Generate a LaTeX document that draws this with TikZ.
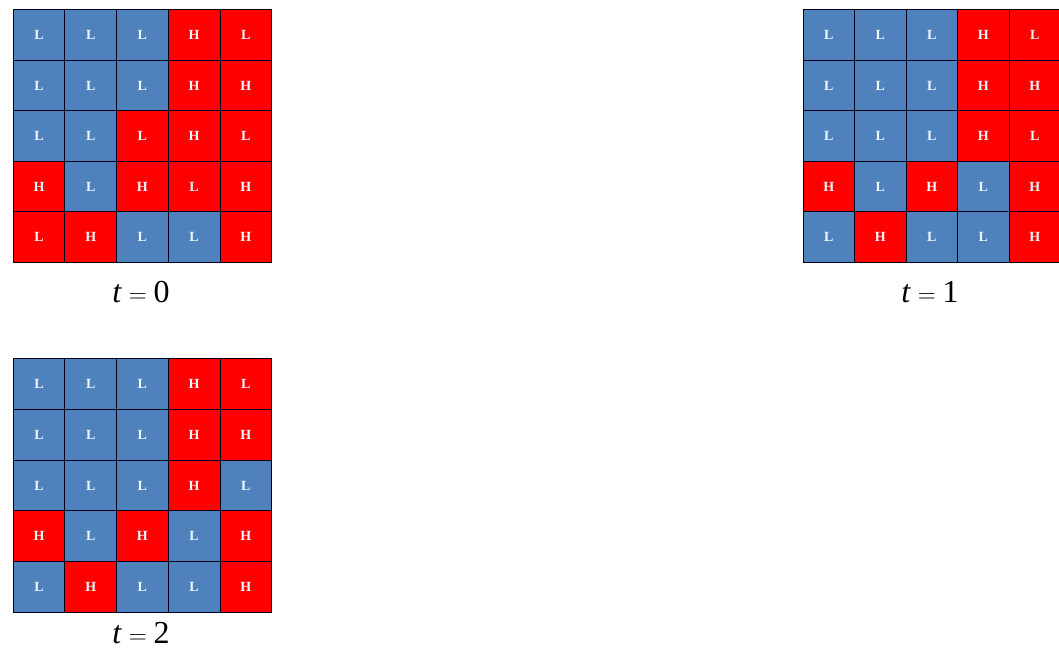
\documentclass[tikz,border=0pt]{standalone}
\usepackage{fontspec}
\setmainfont{Liberation Serif}
\usetikzlibrary{positioning}

\definecolor{lowc}{HTML}{4F81BD}
\definecolor{highc}{HTML}{FF0000}

\tikzset{
  cell/.style={draw=black!90!blue, line width=0.9pt, anchor=north west, inner sep=0pt,
    text=white!92!cyan, font=\bfseries\fontsize{14}{16}\selectfont},
  timelabel/.style={font=\fontsize{32}{38}\selectfont, inner sep=0pt}
}

% #1 name, #2 left, #3 top, #4 cell width, #5 cell height, #6 rows
\newcommand{\drawgrid}[6]{%
  \foreach \row [count=\i] in {#6} {
    \foreach \txt/\col [count=\j] in \row {
      \node[cell, fill=\col, minimum width=#4pt, minimum height=#5pt]
        (#1-\i-\j) at ({#2+(\j-1)*#4}, {#3+(\i-1)*#5}) {\txt};
    }
  }%
}

\begin{document}
\begin{tikzpicture}[x=1pt,y=-1pt]
\clip (0,0) rectangle (1059,657);
\fill[white] (0,0) rectangle (1059,657);

% t = 0
\drawgrid{ga}{12.7}{9.3}{51.7}{50.5}{
  {L/lowc,L/lowc,L/lowc,H/highc,L/highc},
  {L/lowc,L/lowc,L/lowc,H/highc,H/highc},
  {L/lowc,L/lowc,L/highc,H/highc,L/highc},
  {H/highc,L/lowc,H/highc,L/highc,H/highc},
  {L/highc,H/highc,L/lowc,L/lowc,H/highc}}
\node[timelabel] (la) at (141,292) {\textit{t}${}={}$0};

% t = 1
\drawgrid{gb}{802.7}{9.3}{51.5}{50.5}{
  {L/lowc,L/lowc,L/lowc,H/highc,L/highc},
  {L/lowc,L/lowc,L/lowc,H/highc,H/highc},
  {L/lowc,L/lowc,L/lowc,H/highc,L/highc},
  {H/highc,L/lowc,H/highc,L/lowc,H/highc},
  {L/lowc,H/highc,L/lowc,L/lowc,H/highc}}
\node[timelabel] (lb) at (930,292) {\textit{t}${}={}$1};

% t = 2
\drawgrid{gc}{12.7}{358.3}{51.7}{50.7}{
  {L/lowc,L/lowc,L/lowc,H/highc,L/highc},
  {L/lowc,L/lowc,L/lowc,H/highc,H/highc},
  {L/lowc,L/lowc,L/lowc,H/highc,L/lowc},
  {H/highc,L/lowc,H/highc,L/lowc,H/highc},
  {L/lowc,H/highc,L/lowc,L/lowc,H/highc}}
\node[timelabel] (lc) at (141,633) {\textit{t}${}={}$2};
\end{tikzpicture}
\end{document}
